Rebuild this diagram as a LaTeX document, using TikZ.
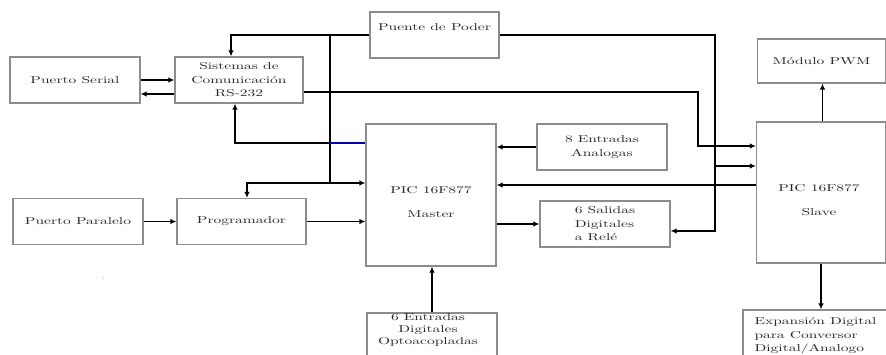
\documentclass[tikz,border=0pt]{standalone}
\usepackage{fontspec}
\setmainfont{Latin Modern Roman}[FakeStretch=1.55]
\usetikzlibrary{arrows.meta}

\begin{document}
\begin{tikzpicture}
  [x=1pt,y=-1pt,>={Latex[length=6pt,width=5.5pt]},
   every node/.style={text=black!85,font=\fontsize{10}{13.5}\selectfont},
   box/.style={draw=black!45,line width=1.2pt,minimum width=130pt,minimum height=46pt,inner sep=0pt},
   link/.style={line width=1.3pt,->}]
  \useasboundingbox (0,0) rectangle (886,355);
  \clip (0,0) rectangle (886,355);

  \node[box] (serial) at (75,80) {Puerto Serial};
  \node[box,align=center,minimum width=128pt] (rs) at (239,80) {Sistemas de\\Comunicación\\RS-232};
  \node[box,minimum width=129pt] (poder) at (434.5,35) {};
  \node (podertxt) at (434.5,27) {Puente de Poder};
  \node[box,minimum width=128pt,minimum height=44pt] (pwm) at (821.5,61) {Módulo PWM};
  \node[box,minimum height=142pt] (master) at (431,195) {};
  \node[align=center] (mastertxt) at (431,202) {PIC 16F877\\[10.5pt]Master};
  \node[box,align=center] (analog) at (602,147) {8 Entradas\\Analogas};
  \node[box,align=left] (relay) at (605,224) {6 Salidas\\Digitales\\a Relé};
  \node[box,minimum width=129pt,minimum height=141pt] (slave) at (821,192.5) {};
  \node[align=center] (slavetxt) at (819,200) {PIC 16F877\\[10.5pt]Slave};
  \node[box] (par) at (78,221.5) {Puerto Paralelo};
  \node[box,minimum width=129pt] (prog) at (241.5,221.5) {Programador};
  \node[box] (opto) at (432,336) {};
  \node[align=center,font=\fontsize{10}{12}\selectfont] (optotxt) at (428,330) {6 Entradas\\Digitales\\Optoacopladas};
  \node[box,minimum width=150pt,minimum height=50pt] (exp) at (818,335) {};
  \node[align=left,anchor=west] (exptxt) at (751,336) {Expansión Digital\\para Conversor\\Digital/Analogo};
  \node[text=black!35,font=\scriptsize] (dots) at (104,278) {:};

  \coordinate (bustop) at (330,35);
  \coordinate (busbot) at (330,183);
  \coordinate (tap) at (330,143);
  \coordinate (rsbend) at (698,92);
  \coordinate (pwrbend) at (715,231);
  \coordinate (pwrtap) at (715,166);

  \foreach \from/\to in {serial.east/rs.west,par.east/prog.west}
    \draw[link] (\from) -- (\to);
  \draw[link] ([yshift=-14pt]rs.west) -- ([yshift=-14pt]serial.east);
  \draw[link] (poder.west) -| ([xshift=-8pt]rs.north);
  \draw[line width=1.3pt] (bustop) -- (busbot);
  \draw[link] (busbot) -- (busbot -| master.west);
  \draw[link] (busbot) -| ([xshift=5.5pt]prog.north);
  \draw[line width=1.3pt,blue!70!black] (tap -| master.west) -- (tap);
  \draw[link] (tap) -| ([xshift=-4pt]rs.south);
  \draw[link] ([yshift=-12pt]rs.east) -- (rsbend) |- ([yshift=46.5pt]slave.west);
  \draw[link] (poder.east) -| (pwrbend) -- ([yshift=-7pt]relay.east);
  \draw[link] (pwrtap) -- (pwrtap -| slave.west);
  \draw[link] (analog.west) -- (analog.west -| master.east);
  \draw[link] ([yshift=7.5pt]slave.west) -- ([yshift=7.5pt]slave.west -| master.east);
  \draw[link] (relay.west -| master.east) -- (relay.west);
  \draw[link] (prog.east) -- (prog.east -| master.west);
  \draw[link] (opto.north) -- (opto.north |- master.south);
  \draw[link] ([xshift=1.5pt]slave.north) -- ([xshift=1.5pt]slave.north |- pwm.south);
  \draw[link] (slave.south) -- (slave.south |- exp.north);

\end{tikzpicture}
\end{document}
